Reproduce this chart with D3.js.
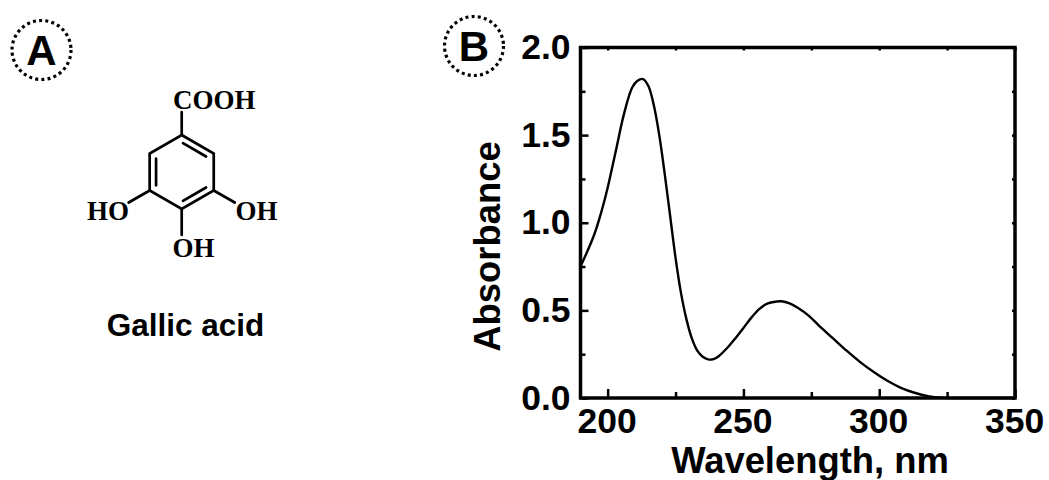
<!DOCTYPE html>
<html>
<head>
<meta charset="utf-8">
<script src="https://cdn.jsdelivr.net/npm/d3@7"></script>
<style>
  html, body { margin: 0; padding: 0; background: #fff; }
  svg { display: block; }
  text { fill: #000; }
  .sans { font-family: "Liberation Sans", Arial, sans-serif; font-weight: bold; }
  .serif { font-family: "Liberation Serif", "Times New Roman", serif; font-weight: bold; }
</style>
</head>
<body>
<div id="chart"></div>
<script>
// spectrum
var wavelength = [190, 195, 198, 200, 203, 206, 209, 211, 213, 215, 217, 219, 221, 223, 225, 227, 229, 231, 233, 235, 237, 239, 241, 244, 247, 250, 253, 256, 259, 262, 264, 267, 270, 274, 278, 283, 288, 293, 298, 303, 308, 313, 318, 323, 330, 350];
var absorbance = [0.75, 0.93, 1.08, 1.20, 1.41, 1.62, 1.77, 1.81, 1.82, 1.78, 1.67, 1.50, 1.28, 1.04, 0.80, 0.60, 0.45, 0.34, 0.27, 0.235, 0.22, 0.222, 0.24, 0.285, 0.34, 0.40, 0.46, 0.51, 0.54, 0.55, 0.552, 0.54, 0.515, 0.47, 0.41, 0.34, 0.27, 0.205, 0.148, 0.098, 0.058, 0.03, 0.011, 0.002, 0, 0];
var xMajor = [200, 250, 300, 350];
var xMinor = [225, 275, 325];
var yMajor = [0, 0.5, 1.0, 1.5, 2.0];
var yMinor = [0.25, 0.75, 1.25, 1.75];

var svg = d3.select("#chart").append("svg")
  .attr("width", 1049)
  .attr("height", 480);

// plot area
var left = 580.5, right = 1015, top_ = 47.5, bottom = 398;

var x = d3.scaleLinear().domain([190, 350]).range([left, right]);
var y = d3.scaleLinear().domain([0, 2]).range([bottom, top_]);

function styleTicks(g) {
  g.select(".domain").remove();
  g.selectAll("line").attr("stroke", "#000").attr("stroke-width", 2.5);
}

// bottom axis
svg.append("g")
  .attr("transform", "translate(0," + bottom + ")")
  .call(d3.axisBottom(x).tickValues(xMajor).tickSize(-9).tickPadding(18).tickFormat(d3.format("d")))
  .call(styleTicks)
  .call(function (g) {
    g.selectAll("text").attr("class", "sans").attr("font-family", null)
      .style("font-size", "35.5px").attr("dx", -1).attr("y", 10).attr("dy", "25px");
  });
svg.append("g")
  .attr("transform", "translate(0," + bottom + ")")
  .call(d3.axisBottom(x).tickValues(xMinor).tickSize(-6).tickFormat(""))
  .call(styleTicks);

// left axis
svg.append("g")
  .attr("transform", "translate(" + left + ",0)")
  .call(d3.axisLeft(y).tickValues(yMajor).tickSize(-8).tickPadding(10).tickFormat(d3.format(".1f")))
  .call(styleTicks)
  .call(function (g) {
    g.selectAll("text").attr("class", "sans").attr("font-family", null)
      .style("font-size", "35.5px").attr("x", -10).attr("dy", "11px");
  });
svg.append("g")
  .attr("transform", "translate(" + left + ",0)")
  .call(d3.axisLeft(y).tickValues(yMinor).tickSize(-5).tickFormat(""))
  .call(styleTicks);

// top and right only have very small ticks
svg.append("g")
  .attr("transform", "translate(0," + top_ + ")")
  .call(d3.axisTop(x).tickValues(xMajor.concat(xMinor)).tickSize(-3).tickFormat(""))
  .call(styleTicks);
svg.append("g")
  .attr("transform", "translate(" + right + ",0)")
  .call(d3.axisRight(y).tickValues(yMajor.concat(yMinor)).tickSize(-3).tickFormat(""))
  .call(styleTicks);

// frame
svg.append("rect")
  .attr("x", left).attr("y", top_)
  .attr("width", right - left).attr("height", bottom - top_)
  .attr("fill", "none").attr("stroke", "#000").attr("stroke-width", 3.5);

// curve
var line = d3.line()
  .x(function (d, i) { return x(wavelength[i]); })
  .y(function (d) { return y(d); })
  .curve(d3.curveCatmullRom.alpha(0.5));
svg.append("path")
  .datum(absorbance)
  .attr("d", line)
  .attr("fill", "none")
  .attr("stroke", "#000")
  .attr("stroke-width", 2.4);

// axis titles
svg.append("text").attr("class", "sans")
  .attr("x", 810).attr("y", 473)
  .attr("text-anchor", "middle")
  .style("font-size", "36.4px")
  .text("Wavelength, nm");
svg.append("text").attr("class", "sans")
  .attr("transform", "translate(500,246.5)rotate(-90)")
  .attr("text-anchor", "middle")
  .style("font-size", "36.4px")
  .text("Absorbance");

// panel badges
function badge(cx, cy, label) {
  svg.append("circle")
    .attr("cx", cx).attr("cy", cy).attr("r", 29.5)
    .attr("fill", "none").attr("stroke", "#000")
    .attr("stroke-width", 3.2).attr("stroke-dasharray", "3 3.2");
  svg.append("text").attr("class", "sans")
    .attr("x", cx).attr("y", cy + 14.5)
    .attr("text-anchor", "middle")
    .style("font-size", "42px")
    .text(label);
}
badge(41.5, 50, "A");
badge(474, 46, "B");

// gallic acid structure, ring built from its centre
var ringCx = 181.7, ringCy = 172, ringR = 37;
var ring = d3.range(6).map(function (i) {
  var a = -Math.PI / 2 + i * Math.PI / 3;
  return [ringCx + ringR * Math.cos(a), ringCy + ringR * Math.sin(a)];
});
var mol = svg.append("g").attr("stroke", "#000").attr("stroke-width", 2.7).attr("stroke-linecap", "round");
mol.append("path").attr("fill", "none")
  .attr("d", d3.line().curve(d3.curveLinearClosed)(ring));

// inner lines of the double bonds
[[0, 1], [2, 3], [4, 5]].forEach(function (b) {
  var p = ring[b[0]], q = ring[b[1]], k = 0.8;
  function inset(c) { return [ringCx + (c[0] - ringCx) * k, ringCy + (c[1] - ringCy) * k]; }
  var a1 = inset(p), a2 = inset(q);
  mol.append("line")
    .attr("x1", a1[0] + (a2[0] - a1[0]) * 0.05).attr("y1", a1[1] + (a2[1] - a1[1]) * 0.05)
    .attr("x2", a1[0] + (a2[0] - a1[0]) * 0.95).attr("y2", a1[1] + (a2[1] - a1[1]) * 0.95);
});

// substituent bonds
[[0, 0, -23], [2, 21, 12], [3, 0, 26], [4, -21, 12]].forEach(function (s) {
  var p = ring[s[0]];
  mol.append("line")
    .attr("x1", p[0]).attr("y1", p[1])
    .attr("x2", p[0] + s[1]).attr("y2", p[1] + s[2]);
});

function atom(px, py, label) {
  svg.append("text").attr("class", "serif")
    .attr("x", px).attr("y", py)
    .style("font-size", "27px")
    .text(label);
}
atom(173, 109, "COOH");
atom(87, 220, "HO");
atom(235.5, 220, "OH");
atom(172.5, 257, "OH");

svg.append("text").attr("class", "sans")
  .attr("x", 185.5).attr("y", 336)
  .attr("text-anchor", "middle")
  .style("font-size", "31.5px")
  .text("Gallic acid");
</script>
</body>
</html>
